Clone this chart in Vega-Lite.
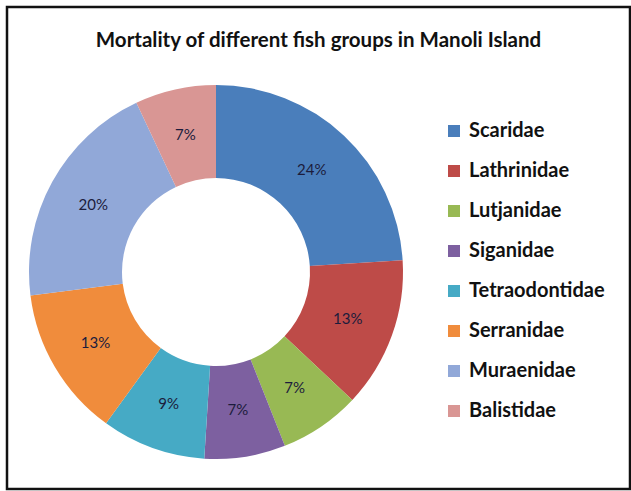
{
  "$schema": "https://vega.github.io/schema/vega-lite/v6.json",
  "width": 623,
  "height": 482,
  "autosize": "none",
  "padding": {"left": 7, "top": 7, "right": 1, "bottom": 2},
  "background": "white",
  "view": {"stroke": "#111111", "strokeWidth": 2.5, "fill": "white"},
  "title": {
    "text": "Mortality of different fish groups in Manoli Island",
    "font": "Lato",
    "fontSize": 20.5,
    "fontWeight": "bold",
    "color": "#111111",
    "anchor": "middle",
    "offset": -44
  },
  "data": {
    "values": [
      {"group": "Scaridae", "pct": 24, "label": "24%", "order": 1},
      {"group": "Lathrinidae", "pct": 13, "label": "13%", "order": 2},
      {"group": "Lutjanidae", "pct": 7, "label": "7%", "order": 3},
      {"group": "Siganidae", "pct": 7, "label": "7%", "order": 4},
      {"group": "Tetraodontidae", "pct": 9, "label": "9%", "order": 5},
      {"group": "Serranidae", "pct": 13, "label": "13%", "order": 6},
      {"group": "Muraenidae", "pct": 20, "label": "20%", "order": 7},
      {"group": "Balistidae", "pct": 7, "label": "7%", "order": 8}
    ]
  },
  "encoding": {
    "theta": {"field": "pct", "type": "quantitative", "stack": true},
    "order": {"field": "order", "type": "quantitative"}
  },
  "layer": [
    {
      "mark": {"type": "arc", "x": 209, "y": 265, "outerRadius": 187, "innerRadius": 94},
      "encoding": {
        "color": {
          "field": "group",
          "type": "nominal",
          "scale": {
            "domain": ["Scaridae", "Lathrinidae", "Lutjanidae", "Siganidae", "Tetraodontidae", "Serranidae", "Muraenidae", "Balistidae"],
            "range": ["#4A7EBB", "#BE4B48", "#98B954", "#7D60A0", "#46AAC5", "#F08C3C", "#91A8D8", "#D99694"]
          },
          "legend": {
            "title": null,
            "orient": "none",
            "legendX": 437,
            "legendY": 114,
            "padding": 0,
            "symbolType": "square",
            "symbolSize": 144,
            "symbolStrokeWidth": 0,
            "labelFont": "Lato",
            "labelFontSize": 20,
            "labelFontWeight": "bold",
            "labelColor": "#111111",
            "labelOffset": 5,
            "rowPadding": 20,
            "labelLimit": 300
          }
        }
      }
    },
    {
      "mark": {"type": "text", "x": 209, "y": 265, "radius": 140, "font": "Lato", "fontSize": 15, "color": "#1C1C3C"},
      "encoding": {
        "text": {"field": "label", "type": "nominal"}
      }
    }
  ]
}
